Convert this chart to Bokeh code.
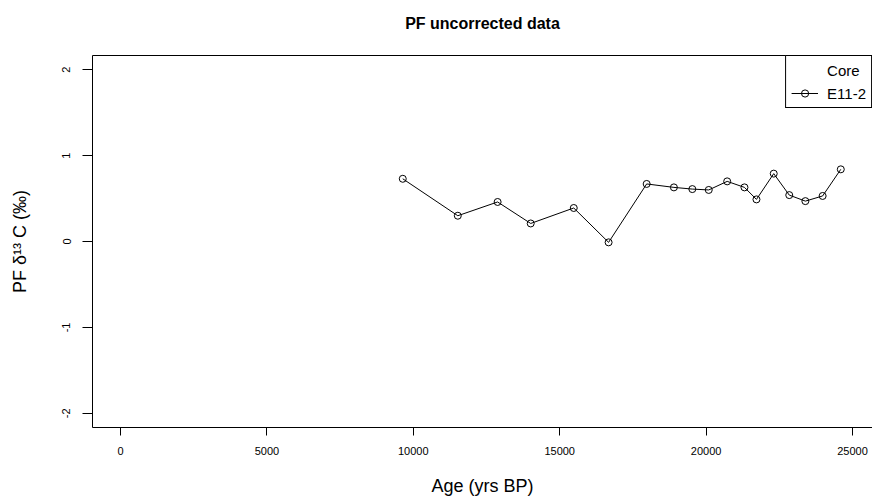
from bokeh.plotting import figure
from bokeh.models import Range1d, Legend, LegendItem, FixedTicker, LinearAxis
from bokeh.embed import file_html
from bokeh.resources import INLINE

# ---- data ----
age = [9640, 11520, 12880, 14010, 15480, 16670, 17970, 18900, 19530,
       20090, 20720, 21310, 21720, 22310, 22840, 23390, 23980, 24600]
pf_d13c = [0.73, 0.30, 0.46, 0.21, 0.39, -0.01, 0.67, 0.63, 0.61,
           0.60, 0.70, 0.63, 0.49, 0.79, 0.54, 0.47, 0.53, 0.84]
x_ticks = [0, 5000, 10000, 15000, 20000, 25000]
y_ticks = [-2, -1, 0, 1, 2]
y_tick_labels = ["-2", "-1", "0", "1", "2"]
core_name = "E11-2"
legend_title = "Core"
title_text = "PF uncorrected data"

FONT = "Liberation Sans"

W, H = 872, 502
ML, MT, MB = 92, 55, 75
x0, x1 = -956, 25683
y0, y1 = -2.165, 2.165

p = figure(width=W, height=H, output_backend="svg", toolbar_location=None,
           x_range=Range1d(x0, x1), y_range=Range1d(y0, y1),
           min_border_left=ML, min_border_right=0, min_border_top=MT,
           min_border_bottom=MB)

p.background_fill_color = "white"
p.border_fill_color = "white"
p.outline_line_color = None
p.xgrid.visible = False
p.ygrid.visible = False

ln = p.line(age, pf_d13c, line_color="black", line_width=1)
sc = p.scatter(age, pf_d13c, marker="circle", size=7, fill_color=None,
               line_color="black", line_width=1)
# empty renderer used only to carry the legend heading row
hdr = p.scatter([], [], marker="circle", size=1, fill_alpha=0, line_alpha=0)

# axes
xa = p.xaxis[0]
xa.ticker = FixedTicker(ticks=x_ticks)
xa.minor_tick_line_color = None
xa.major_tick_in = 0
xa.major_tick_out = 8
xa.major_label_text_font = FONT
xa.major_label_text_font_size = "11px"
xa.major_label_text_color = "black"
xa.major_label_standoff = 11
xa.axis_label = "Age (yrs BP)"
xa.axis_label_text_font = FONT
xa.axis_label_text_font_style = "normal"
xa.axis_label_text_font_size = "18px"
xa.axis_label_text_color = "black"
xa.axis_label_standoff = 18
xa.axis_line_color = "black"

ya = p.yaxis[0]
ya.ticker = FixedTicker(ticks=y_ticks)
ya.major_label_overrides = {t: s for t, s in zip(y_ticks, y_tick_labels)}
ya.minor_tick_line_color = None
ya.major_tick_in = 0
ya.major_tick_out = 10
ya.major_label_orientation = "vertical"
ya.major_label_text_font = FONT
ya.major_label_text_font_size = "11px"
ya.major_label_text_color = "black"
ya.major_label_standoff = 12
ya.axis_label = "PF δ¹³ C (‰)"
ya.axis_label_text_font = FONT
ya.axis_label_text_font_style = "normal"
ya.axis_label_text_font_size = "18px"
ya.axis_label_text_color = "black"
ya.axis_label_standoff = 30
ya.axis_line_color = "black"

# top border of the box (no right border visible in the reference), carrying the title
top = LinearAxis(ticker=FixedTicker(ticks=[]), major_tick_line_color=None,
                 major_tick_in=0, major_tick_out=0, major_label_standoff=0,
                 minor_tick_line_color=None, minor_tick_out=0,
                 axis_line_color="black",
                 axis_label=title_text, axis_label_standoff=24,
                 axis_label_text_font=FONT, axis_label_text_font_style="bold",
                 axis_label_text_font_size="16px", axis_label_text_color="black")
p.add_layout(top, "above")

legend = Legend(items=[LegendItem(label=legend_title, renderers=[hdr]),
                       LegendItem(label=core_name, renderers=[ln, sc])],
                location="top_right", margin=0, padding=5,
                border_line_color="black", border_line_width=1,
                border_line_alpha=1.0,
                background_fill_color="white", background_fill_alpha=1.0,
                glyph_width=27, glyph_height=18, label_height=18,
                label_standoff=9, spacing=5,
                label_text_font=FONT, label_text_font_size="15px",
                label_text_color="black")
p.add_layout(legend)

open("out.html", "w").write(file_html(p, INLINE))
